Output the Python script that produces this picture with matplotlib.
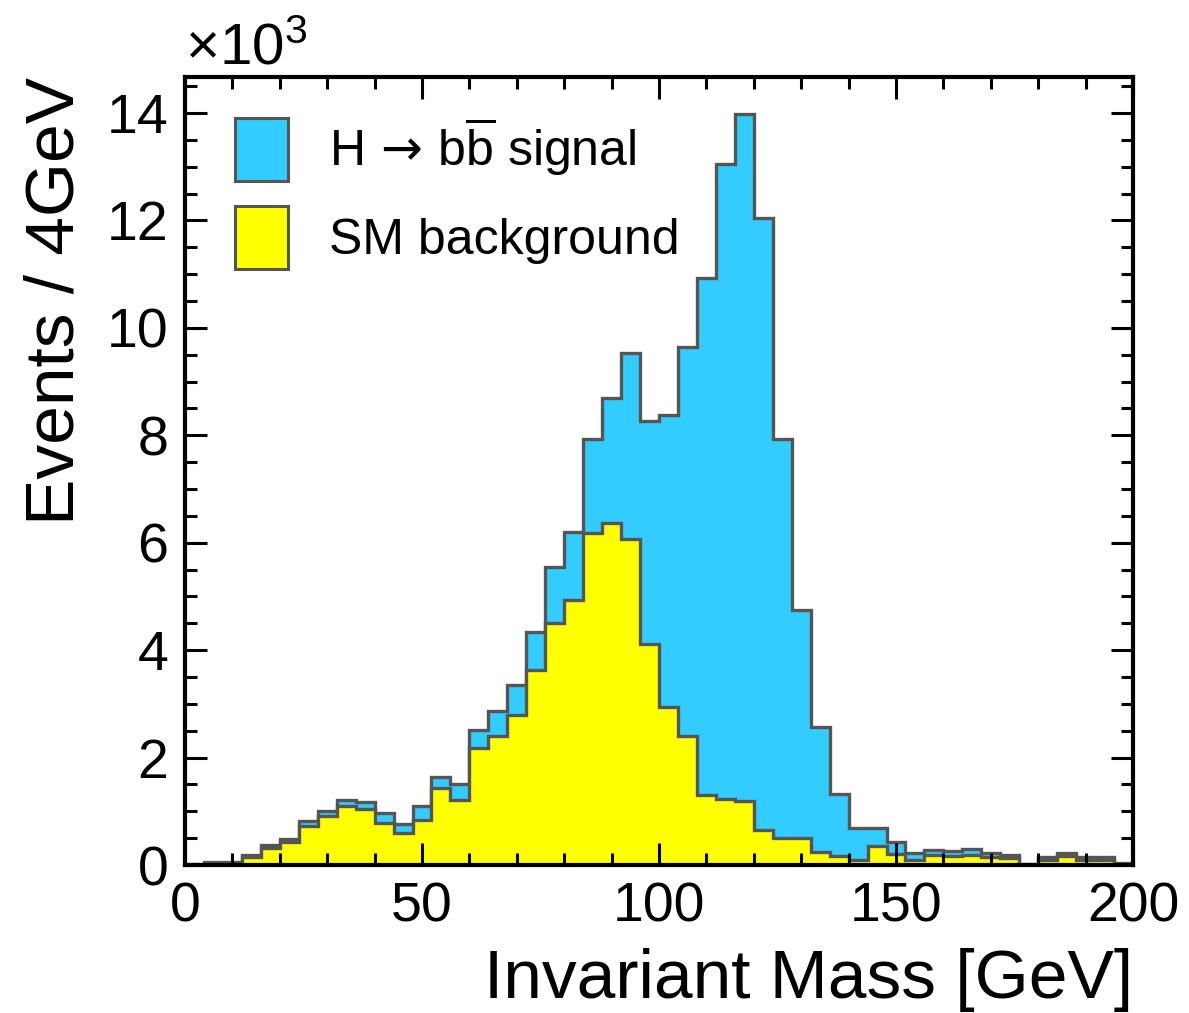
import numpy as np
import matplotlib
matplotlib.use('Agg')
import matplotlib.pyplot as plt
from matplotlib.patches import Patch
from matplotlib.ticker import MultipleLocator

plt.rcParams['font.family'] = ['Liberation Sans', 'DejaVu Sans']
plt.rcParams['mathtext.fontset'] = 'custom'
plt.rcParams['mathtext.rm'] = 'Liberation Sans'
plt.rcParams['mathtext.it'] = 'Liberation Sans:italic'
plt.rcParams['mathtext.sf'] = 'DejaVu Sans'

# 4 GeV bins from 0 to 200, values in units of 10^3 events
edges = np.arange(0, 201, 4)
total = [0.02, 0.06, 0.06, 0.19, 0.38, 0.48, 0.81, 1.01, 1.21, 1.18,
         0.96, 0.76, 1.09, 1.63, 1.50, 2.51, 2.87, 3.35, 4.33, 5.54,
         6.19, 7.93, 8.70, 9.53, 8.27, 8.37, 9.64, 10.92, 13.05, 13.98,
         12.04, 7.93, 4.74, 2.56, 1.33, 0.68, 0.69, 0.43, 0.22, 0.27,
         0.26, 0.29, 0.22, 0.19, 0.02, 0.14, 0.23, 0.14, 0.14, 0.03]
background = [0.0, 0.0, 0.0, 0.14, 0.32, 0.42, 0.72, 0.91, 1.10, 1.04,
              0.78, 0.59, 0.84, 1.43, 1.21, 2.17, 2.40, 2.79, 3.63, 4.50,
              4.93, 6.18, 6.36, 6.07, 4.12, 2.95, 2.41, 1.30, 1.22, 1.19,
              0.66, 0.51, 0.50, 0.24, 0.17, 0.10, 0.36, 0.20, 0.10, 0.19,
              0.17, 0.19, 0.14, 0.13, 0.0, 0.09, 0.17, 0.09, 0.10, 0.0]

cyan = '#33ccff'
yellow = '#ffff00'
edge = '#555555'

fig = plt.figure(figsize=(11.89, 10.13), dpi=100)
ax = fig.add_axes([0.1556, 0.1461, 0.7973, 0.7779])

ax.stairs(total, edges, fill=True, facecolor=cyan, edgecolor=edge, linewidth=2.4)
ax.stairs(background, edges, fill=True, facecolor=yellow, edgecolor=edge, linewidth=2.4)

ax.set_xlim(0, 200)
ax.set_ylim(0, 14.67)

ax.xaxis.set_major_locator(MultipleLocator(50))
ax.xaxis.set_minor_locator(MultipleLocator(10))
ax.yaxis.set_major_locator(MultipleLocator(2))
ax.yaxis.set_minor_locator(MultipleLocator(0.5))
ax.tick_params(which='both', direction='in', top=True, right=True, width=2.2,
               labelsize=40)
ax.tick_params(which='major', length=16, pad=12)
ax.tick_params(which='minor', length=8.5)
for s in ax.spines.values():
    s.set_linewidth(3)

ax.set_xlabel('Invariant Mass [GeV]', fontsize=50, loc='right', labelpad=10)
ax.set_ylabel('Events / 4GeV', fontsize=50, loc='top', labelpad=14)
ax.text(0.0, 1.0, '×10$^3$', transform=ax.transAxes, fontsize=42,
        ha='left', va='bottom')

handles = [Patch(facecolor=cyan, edgecolor=edge, linewidth=2.2),
           Patch(facecolor=yellow, edgecolor=edge, linewidth=2.2)]
labels = [r'H$\,\mathsf{\rightarrow}\,$b$\overline{\mathrm{b}}$ signal', 'SM background']
ax.legend(handles, labels, loc='upper left', bbox_to_anchor=(0.0216, 0.989),
          fontsize=36, frameon=False, handlelength=1.05, handleheight=1.55,
          labelspacing=0.5, handletextpad=0.82, borderaxespad=0.0, borderpad=0.6)

fig.savefig('out.png', dpi=100)
